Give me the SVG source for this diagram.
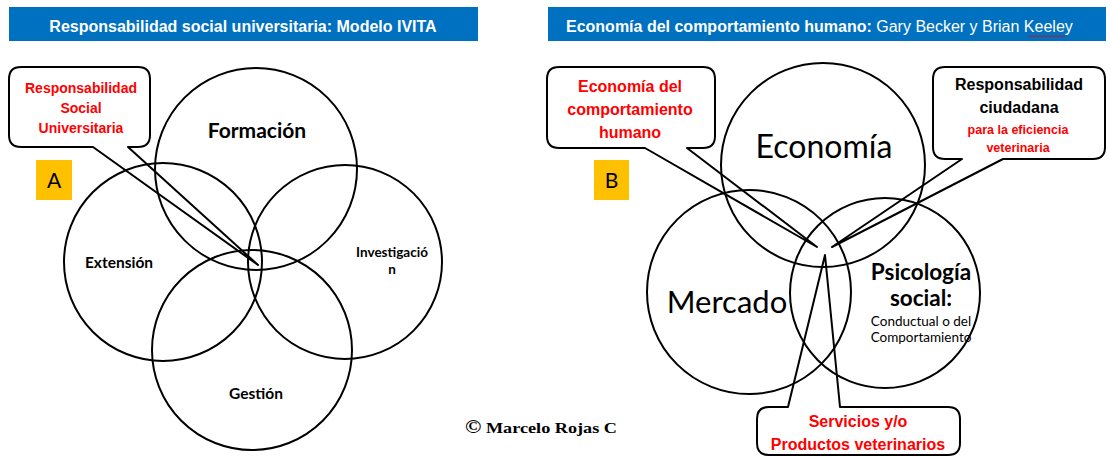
<svg xmlns="http://www.w3.org/2000/svg" width="1110" height="457" viewBox="0 0 1110 457">
<style>
.bar{fill:#0070C0}
.ttl{font-family:"Liberation Sans",Arial,sans-serif;font-size:16px;fill:#fff}
.b{font-weight:bold}
.circ{fill:none;stroke:#000;stroke-width:2}
.call{fill:#fff;stroke:#000;stroke-width:2;stroke-linejoin:round}
.red{font-family:"Liberation Sans",Arial,sans-serif;font-weight:bold;fill:#f00;text-anchor:middle}
.blk{font-family:"Liberation Sans",Arial,sans-serif;font-weight:bold;fill:#000;text-anchor:middle}
.cal{font-family:Lato,"Open Sans",sans-serif;fill:#000;text-anchor:middle}
.tag{fill:#FFC000}
</style>
<rect width="1110" height="457" fill="#fff"/>
<g id="title-left">
<rect class="bar" x="9" y="7" width="469" height="34"/>
<text class="ttl b" x="243" y="32" text-anchor="middle">Responsabilidad social universitaria: Modelo IVITA</text>
</g>
<g id="title-right">
<rect class="bar" x="548" y="7" width="558" height="34"/>
<text class="ttl" x="566" y="32"><tspan class="b">Economía del comportamiento humano:</tspan> Gary Becker y Brian Keeley</text>
<path d="M1028 35.5 l2 1.5 l2 -1.5 l2 1.5 l2 -1.5 l2 1.5 l2 -1.5 l2 1.5 l2 -1.5 l2 1.5 l2 -1.5 l2 1.5 l2 -1.5 l2 1.5 l2 -1.5 l2 1.5 l2 -1.5 l2 1.5 l2 -1.5 l2 1.5" fill="none" stroke="#e00" stroke-width="0.8"/>
</g>
<g id="connectors">
<path id="callout-rsu" class="call" d="M21 67 H138 Q150 67 150 79 V135 Q150 147 138 147 H128 L258 265 L93 147 H21 Q9 147 9 135 V79 Q9 67 21 67 Z"/>
<path id="callout-ech" class="call" d="M559 67 H703 Q715 67 715 79 V136 Q715 148 703 148 H687 L817 247 L645 148 H559 Q547 148 547 136 V79 Q547 67 559 67 Z"/>
<path id="callout-rc" class="call" d="M945 67 H1093 Q1105 67 1105 79 V147 Q1105 159 1093 159 H1003 L832 247 L962 159 H945 Q933 159 933 147 V79 Q933 67 945 67 Z"/>
<path id="callout-spv" class="call" d="M769 407 H788 L825 255 L840 407 H948 Q960 407 960 419 V443 Q960 455 948 455 H769 Q757 455 757 443 V419 Q757 407 769 407 Z"/>
</g>
<g id="node-formacion"><circle class="circ" cx="256" cy="169" r="101"/></g>
<g id="node-extension"><circle class="circ" cx="163" cy="262" r="99"/></g>
<g id="node-investigacion"><circle class="circ" cx="345" cy="262" r="97"/></g>
<g id="node-gestion"><circle class="circ" cx="252" cy="350" r="100"/></g>
<g id="node-economia"><circle class="circ" cx="823" cy="165" r="102"/></g>
<g id="node-mercado"><circle class="circ" cx="749" cy="292" r="102"/></g>
<g id="node-psicologia"><circle class="circ" cx="885" cy="293" r="95"/></g>
<g id="labels-left">
<text class="cal b" x="257" y="138" font-size="21">Formación</text>
<text class="cal b" x="119" y="268" font-size="15.5">Extensión</text>
<text class="cal b" x="392" y="257" font-size="13.5">Investigació</text>
<text class="cal b" x="392" y="274" font-size="13.5">n</text>
<text class="cal b" x="256" y="399" font-size="15.5">Gestión</text>
</g>
<g id="labels-right">
<text class="cal" x="824" y="158" font-size="32">Economía</text>
<text class="cal" x="727" y="313" font-size="31">Mercado</text>
<text class="cal b" x="921" y="280" font-size="22.5">Psicología</text>
<text class="cal b" x="921" y="306" font-size="22.5">social:</text>
<text class="cal" x="921" y="326" font-size="13.5">Conductual o del</text>
<text class="cal" x="921" y="342" font-size="13.5">Comportamiento</text>
</g>
<g id="callout-texts">
<text class="red" x="81" y="93" font-size="14">Responsabilidad</text>
<text class="red" x="81" y="113" font-size="14">Social</text>
<text class="red" x="81" y="133" font-size="14">Universitaria</text>
<text class="red" x="630" y="92" font-size="16">Economía del</text>
<text class="red" x="630" y="115" font-size="16">comportamiento</text>
<text class="red" x="630" y="138" font-size="16">humano</text>
<text class="blk" x="1019" y="90" font-size="16">Responsabilidad</text>
<text class="blk" x="1019" y="113" font-size="16">ciudadana</text>
<text class="red" x="1018" y="134" font-size="12.5">para la eficiencia</text>
<text class="red" x="1018" y="152" font-size="12.5">veterinaria</text>
<text class="red" x="858" y="427" font-size="16">Servicios y/o</text>
<text class="red" x="858" y="450" font-size="16">Productos veterinarios</text>
</g>
<g id="tag-a">
<rect class="tag" x="36" y="160" width="36" height="40"/>
<text class="cal" x="54" y="188" font-size="21">A</text>
</g>
<g id="tag-b">
<rect class="tag" x="594" y="160" width="35" height="40"/>
<text class="cal" x="611.5" y="188" font-size="21">B</text>
</g>
<g id="copyright">
<text x="465" y="433" font-family="'Liberation Serif','Times New Roman',serif" font-weight="bold" font-size="15" fill="#000" textLength="152" lengthAdjust="spacingAndGlyphs"><tspan font-size="18">©</tspan> Marcelo Rojas C</text>
</g>
</svg>
